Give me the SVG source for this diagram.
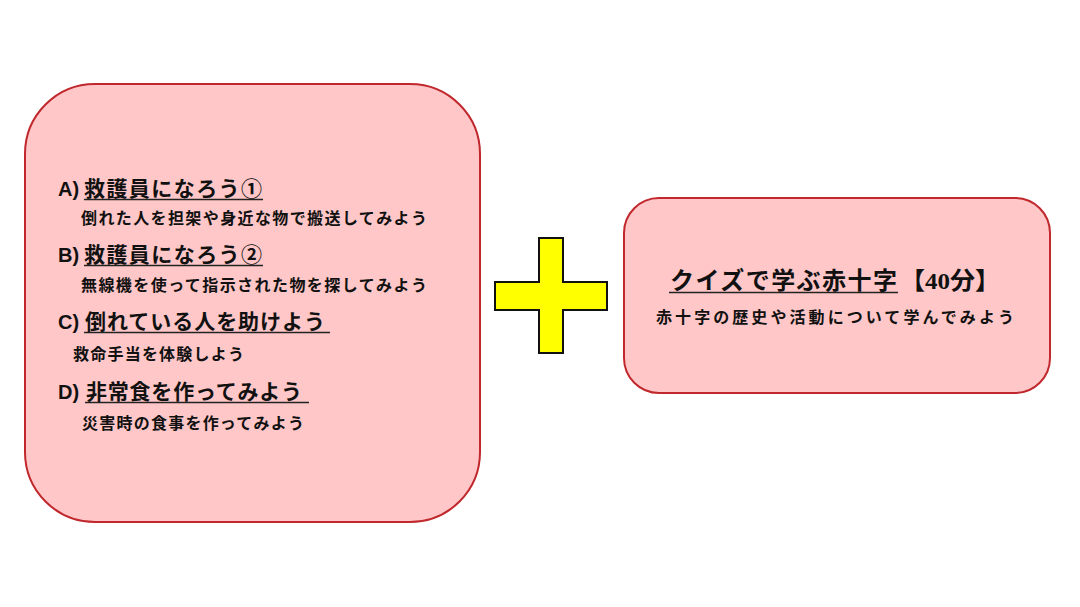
<svg xmlns="http://www.w3.org/2000/svg" width="1080" height="607" viewBox="0 0 1080 607">
<style>
.box{fill:#ffc7c7;stroke:#c0282d;stroke-width:2}
.h{font-family:"Noto Sans CJK JP","Noto Sans",sans-serif;font-weight:bold;font-size:21px;fill:#111}
.l{font-family:"Liberation Sans","Noto Sans CJK JP",sans-serif;font-weight:bold;font-size:20px;fill:#111}
.s{font-family:"Noto Sans CJK JP",sans-serif;font-weight:bold;font-size:16px;fill:#111}
.u{stroke:#222;stroke-width:1.5}
.serif{font-family:"Liberation Serif","Noto Sans CJK JP",serif;font-weight:bold}
</style>
<rect width="1080" height="607" fill="#ffffff"/>
<g id="left-box">
<rect class="box" x="25" y="84" width="455" height="438" rx="70" ry="70"/>
<text class="l" x="58" y="196">A)</text>
<text class="h" x="84" y="196" textLength="178" lengthAdjust="spacing">救護員になろう①</text>
<line class="u" x1="84" y1="199.5" x2="263" y2="199.5"/>
<text class="s" x="81" y="224" textLength="346" lengthAdjust="spacing">倒れた人を担架や身近な物で搬送してみよう</text>
<text class="l" x="58" y="262">B)</text>
<text class="h" x="84" y="262" textLength="178" lengthAdjust="spacing">救護員になろう②</text>
<line class="u" x1="84" y1="265.5" x2="263" y2="265.5"/>
<text class="s" x="81" y="291" textLength="346" lengthAdjust="spacing">無線機を使って指示された物を探してみよう</text>
<text class="l" x="58" y="329">C)</text>
<text class="h" x="85" y="329" textLength="240" lengthAdjust="spacing">倒れている人を助けよう</text>
<line class="u" x1="84" y1="332.5" x2="330" y2="332.5"/>
<text class="s" x="73" y="360" textLength="171" lengthAdjust="spacing">救命手当を体験しよう</text>
<text class="l" x="58" y="399">D)</text>
<text class="h" x="86" y="399" textLength="216" lengthAdjust="spacing">非常食を作ってみよう</text>
<line class="u" x1="85" y1="402.5" x2="309" y2="402.5"/>
<text class="s" x="82" y="429" textLength="222" lengthAdjust="spacing">災害時の食事を作ってみよう</text>
</g>
<g id="plus">
<path d="M539,238 H563 V282 H607 V310 H563 V353 H539 V310 H495 V282 H539 Z" fill="#ffff00" stroke="#111" stroke-width="2"/>
</g>
<g id="right-box">
<rect class="box" x="624" y="198" width="426" height="195" rx="35" ry="35"/>
<text class="h" x="670" y="289" style="font-size:24px" textLength="227" lengthAdjust="spacing">クイズで学ぶ赤十字</text>
<line class="u" x1="669" y1="292.5" x2="898" y2="292.5"/>
<text class="h serif" x="900" y="289" style="font-size:24px" textLength="100" lengthAdjust="spacingAndGlyphs">【40分】</text>
<text class="s" x="656" y="323" textLength="358" lengthAdjust="spacing">赤十字の歴史や活動について学んでみよう</text>
</g>
<g id="connectors"/>
</svg>
